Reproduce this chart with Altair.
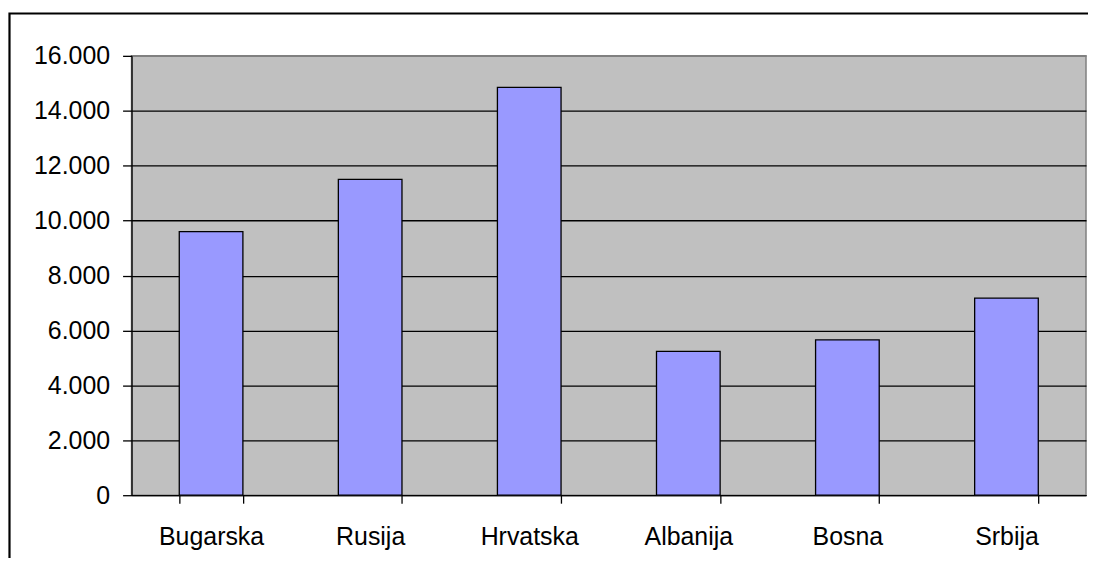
import altair as alt
import pandas as pd

countries = ["Bugarska", "Rusija", "Hrvatska", "Albanija", "Bosna", "Srbija"]
values = [9600, 11500, 14850, 5240, 5660, 7180]
y_ticks = [0, 2000, 4000, 6000, 8000, 10000, 12000, 14000, 16000]

df = pd.DataFrame({"country": countries, "value": values})

FONT = "Liberation Sans"

bars = alt.Chart(df).mark_bar(
    color="#9999FF", stroke="black", strokeWidth=1.3
).encode(
    x=alt.X(
        "country:N",
        sort=countries,
        scale=alt.Scale(paddingInner=0.6, paddingOuter=0.3),
        axis=alt.Axis(
            title=None,
            labelAngle=0,
            tickBand="extent",
            tickSize=8,
            tickColor="black",
            tickWidth=1.3,
            domainColor="black",
            domainWidth=1.3,
            labelFont=FONT,
            labelFontSize=25,
            labelColor="black",
            labelPadding=21,
            grid=False,
        ),
    ),
    y=alt.Y(
        "value:Q",
        scale=alt.Scale(domain=[0, 16000], nice=False),
        axis=alt.Axis(
            title=None,
            values=y_ticks,
            labelExpr="replace(format(datum.value, ','), ',', '.')",
            tickSize=9,
            tickColor="black",
            tickWidth=1.3,
            domainColor="black",
            domainWidth=1.3,
            labelFont=FONT,
            labelFontSize=25,
            labelColor="black",
            labelPadding=13,
            grid=True,
            gridColor=alt.condition("datum.value >= 16000", alt.value("#808080"), alt.value("black")),
            gridWidth=1.3,
            gridOpacity=1,
        ),
    ),
)

frame = alt.Chart(pd.DataFrame({"a": [0]})).mark_rect(
    fill=None, stroke="black", strokeWidth=2.2, clip=False
).encode(
    x=alt.value(-122.5), x2=alt.value(990), y=alt.value(-42.5), y2=alt.value(540)
)

chart = alt.layer(bars, frame).properties(
    width=958,
    height=441,
    autosize=alt.AutoSizeParams(type="none"),
    padding={"left": 124, "top": 47, "right": 2, "bottom": 62},
    background="white",
).configure_view(
    fill="#C0C0C0", stroke="#808080", strokeWidth=1.5
)

chart.save("out.html", embed_options={"renderer": "svg", "actions": False})
